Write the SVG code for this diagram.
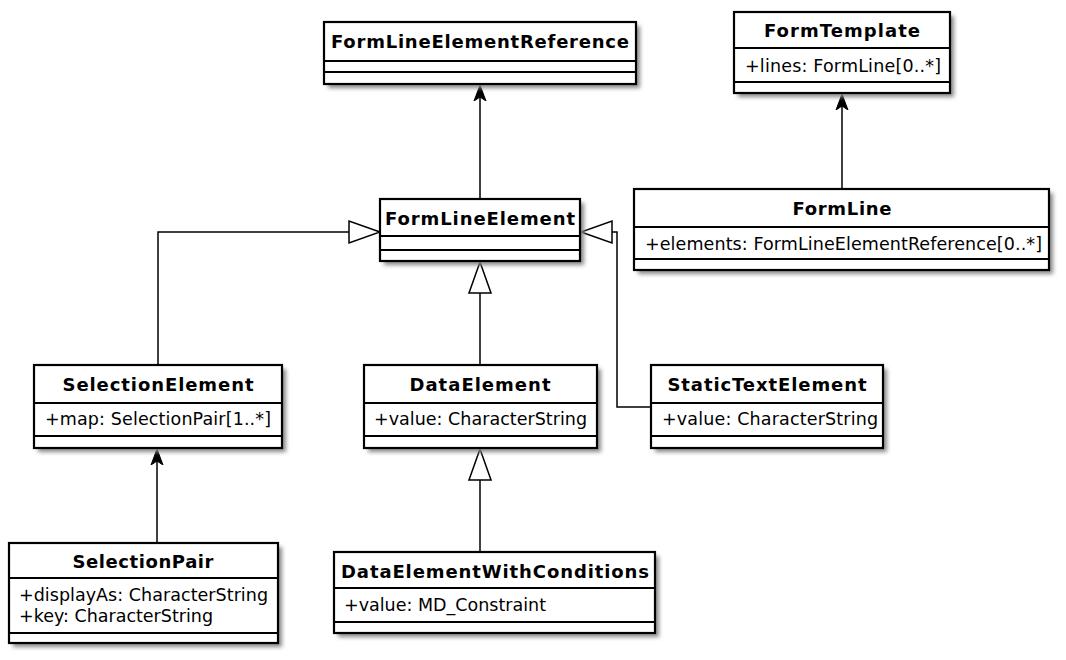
<svg xmlns="http://www.w3.org/2000/svg" width="1066" height="660" viewBox="0 0 1066 660">
<style>
.box{fill:#fff;stroke:#000;stroke-width:2.2;}
.sep{stroke:#000;stroke-width:2;}
.t{font-family:"DejaVu Sans",sans-serif;font-weight:bold;font-size:18px;text-anchor:middle;fill:#000;}
.a{font-family:"DejaVu Sans",sans-serif;font-size:17.5px;fill:#000;}
.c{fill:none;stroke:#000;stroke-width:1.5;}
.sh{fill:#888;filter:url(#blur);}
</style>
<defs>
<filter id="blur" x="-10%" y="-10%" width="120%" height="130%"><feGaussianBlur stdDeviation="2"/></filter>
<marker id="arr" viewBox="0 0 17 14" refX="16" refY="7" markerWidth="17" markerHeight="14" markerUnits="userSpaceOnUse" orient="auto"><path d="M16,7 L0,1 L4,7 L0,13 Z" fill="#000" stroke="#000" stroke-width="1"/></marker>
<marker id="tri" viewBox="-1 -1 34 26" refX="31" refY="12" markerWidth="34" markerHeight="26" markerUnits="userSpaceOnUse" orient="auto"><path d="M31,12 L0,1 L0,23 Z" fill="#fff" stroke="#000" stroke-width="1.5"/></marker>
</defs>
<g id="connectors">
<path class="c" d="M480,199 L480,85" marker-end="url(#arr)"/>
<path class="c" d="M842,189 L842,94" marker-end="url(#arr)"/>
<path class="c" d="M157,543 L157,449" marker-end="url(#arr)"/>
<path class="c" d="M158,365 L158,232 L380,232" marker-end="url(#tri)"/>
<path class="c" d="M480,365 L480,262" marker-end="url(#tri)"/>
<path class="c" d="M651,407 L617,407 L617,232 L581,232" marker-end="url(#tri)"/>
<path class="c" d="M480,552 L480,449" marker-end="url(#tri)"/>
</g>
<g id="FormLineElementReference">
<rect class="sh" x="328" y="26" width="312" height="62"/>
<rect class="box" x="324" y="22" width="312" height="62"/>
<line class="sep" x1="324" y1="61" x2="636" y2="61"/><line class="sep" x1="324" y1="72" x2="636" y2="72"/>
<text class="t" x="480" y="48" textLength="298" lengthAdjust="spacing">FormLineElementReference</text>
</g>
<g id="FormTemplate">
<rect class="sh" x="738" y="16" width="216" height="81"/>
<rect class="box" x="734" y="12" width="216" height="81"/>
<line class="sep" x1="734" y1="48" x2="950" y2="48"/><line class="sep" x1="734" y1="82" x2="950" y2="82"/>
<text class="t" x="842" y="37" textLength="156" lengthAdjust="spacing">FormTemplate</text>
<text class="a" x="745" y="72" textLength="196" lengthAdjust="spacing">+lines: FormLine[0..*]</text>
</g>
<g id="FormLineElement">
<rect class="sh" x="384" y="203" width="200" height="62"/>
<rect class="box" x="380" y="199" width="200" height="62"/>
<line class="sep" x1="380" y1="236" x2="580" y2="236"/><line class="sep" x1="380" y1="250" x2="580" y2="250"/>
<text class="t" x="480" y="225" textLength="190" lengthAdjust="spacing">FormLineElement</text>
</g>
<g id="FormLine">
<rect class="sh" x="638" y="193" width="415" height="81"/>
<rect class="box" x="634" y="189" width="415" height="81"/>
<line class="sep" x1="634" y1="227" x2="1049" y2="227"/><line class="sep" x1="634" y1="259" x2="1049" y2="259"/>
<text class="t" x="842" y="215" textLength="99" lengthAdjust="spacing">FormLine</text>
<text class="a" x="645" y="250" textLength="397" lengthAdjust="spacing">+elements: FormLineElementReference[0..*]</text>
</g>
<g id="SelectionElement">
<rect class="sh" x="38" y="369" width="248" height="83"/>
<rect class="box" x="34" y="365" width="248" height="83"/>
<line class="sep" x1="34" y1="403" x2="282" y2="403"/><line class="sep" x1="34" y1="436" x2="282" y2="436"/>
<text class="t" x="158" y="391" textLength="191" lengthAdjust="spacing">SelectionElement</text>
<text class="a" x="45" y="425" textLength="226" lengthAdjust="spacing">+map: SelectionPair[1..*]</text>
</g>
<g id="DataElement">
<rect class="sh" x="368" y="369" width="233" height="83"/>
<rect class="box" x="364" y="365" width="233" height="83"/>
<line class="sep" x1="364" y1="403" x2="597" y2="403"/><line class="sep" x1="364" y1="436" x2="597" y2="436"/>
<text class="t" x="480" y="391" textLength="141" lengthAdjust="spacing">DataElement</text>
<text class="a" x="374" y="425" textLength="213" lengthAdjust="spacing">+value: CharacterString</text>
</g>
<g id="StaticTextElement">
<rect class="sh" x="655" y="369" width="232" height="83"/>
<rect class="box" x="651" y="365" width="232" height="83"/>
<line class="sep" x1="651" y1="403" x2="883" y2="403"/><line class="sep" x1="651" y1="436" x2="883" y2="436"/>
<text class="t" x="767" y="391" textLength="199" lengthAdjust="spacing">StaticTextElement</text>
<text class="a" x="662" y="425" textLength="216" lengthAdjust="spacing">+value: CharacterString</text>
</g>
<g id="SelectionPair">
<rect class="sh" x="13" y="547" width="269" height="100"/>
<rect class="box" x="9" y="543" width="269" height="100"/>
<line class="sep" x1="9" y1="578" x2="278" y2="578"/><line class="sep" x1="9" y1="633" x2="278" y2="633"/>
<text class="t" x="143" y="568" textLength="141" lengthAdjust="spacing">SelectionPair</text>
<text class="a" x="19" y="601" textLength="249" lengthAdjust="spacing">+displayAs: CharacterString</text>
<text class="a" x="19" y="622" textLength="194" lengthAdjust="spacing">+key: CharacterString</text>
</g>
<g id="DataElementWithConditions">
<rect class="sh" x="338" y="556" width="321" height="81"/>
<rect class="box" x="334" y="552" width="321" height="81"/>
<line class="sep" x1="334" y1="588" x2="655" y2="588"/><line class="sep" x1="334" y1="622" x2="655" y2="622"/>
<text class="t" x="495" y="578" textLength="308" lengthAdjust="spacing">DataElementWithConditions</text>
<text class="a" x="344" y="611" textLength="202" lengthAdjust="spacing">+value: MD_Constraint</text>
</g>
</svg>
